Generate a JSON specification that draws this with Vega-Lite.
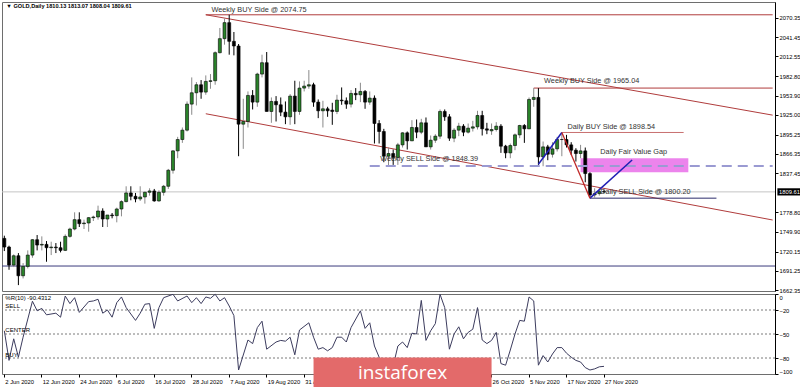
{
"$schema": "https://vega.github.io/schema/vega-lite/v6.json",
"background": "white",
"padding": {"left": 1, "top": 1, "right": 0, "bottom": 0},
"spacing": 3,
"bounds": "flush",
"config": {
  "view": {"stroke": "#6e6e6e", "strokeWidth": 1},
  "font": "Liberation Sans",
  "axis": {"labelFont": "Liberation Sans", "labelFontSize": 5.8, "labelColor": "#000", "tickColor": "#000", "domainColor": "#000", "grid": false, "tickSize": 3, "labelPadding": 1, "labelOverlap": false, "labelSeparation": 0}
},
"resolve": {"scale": {"x": "shared"}},
"datasets": {
  "candles": [
{"d":"2020-06-02","o":1740,"h":1744,"l":1721,"c":1727},
{"d":"2020-06-03","o":1727,"h":1729,"l":1693,"c":1700},
{"d":"2020-06-04","o":1700,"h":1716,"l":1697,"c":1714},
{"d":"2020-06-05","o":1714,"h":1718,"l":1670,"c":1684},
{"d":"2020-06-08","o":1684,"h":1703,"l":1680,"c":1698},
{"d":"2020-06-09","o":1698,"h":1722,"l":1695,"c":1715},
{"d":"2020-06-10","o":1715,"h":1739,"l":1711,"c":1738},
{"d":"2020-06-11","o":1738,"h":1745,"l":1722,"c":1730},
{"d":"2020-06-12","o":1730,"h":1743,"l":1722,"c":1731},
{"d":"2020-06-15","o":1731,"h":1736,"l":1705,"c":1726},
{"d":"2020-06-16","o":1726,"h":1735,"l":1715,"c":1727},
{"d":"2020-06-17","o":1727,"h":1733,"l":1718,"c":1726},
{"d":"2020-06-18","o":1726,"h":1735,"l":1719,"c":1722},
{"d":"2020-06-19","o":1722,"h":1746,"l":1721,"c":1743},
{"d":"2020-06-22","o":1743,"h":1756,"l":1741,"c":1754},
{"d":"2020-06-23","o":1754,"h":1779,"l":1752,"c":1768},
{"d":"2020-06-24","o":1768,"h":1779,"l":1757,"c":1762},
{"d":"2020-06-25","o":1762,"h":1768,"l":1754,"c":1763},
{"d":"2020-06-26","o":1763,"h":1772,"l":1750,"c":1771},
{"d":"2020-06-29","o":1771,"h":1774,"l":1766,"c":1772},
{"d":"2020-06-30","o":1772,"h":1789,"l":1768,"c":1781},
{"d":"2020-07-01","o":1781,"h":1785,"l":1757,"c":1769},
{"d":"2020-07-02","o":1769,"h":1775,"l":1757,"c":1775},
{"d":"2020-07-03","o":1775,"h":1778,"l":1770,"c":1774},
{"d":"2020-07-06","o":1774,"h":1786,"l":1764,"c":1784},
{"d":"2020-07-07","o":1784,"h":1797,"l":1773,"c":1795},
{"d":"2020-07-08","o":1795,"h":1818,"l":1794,"c":1808},
{"d":"2020-07-09","o":1808,"h":1818,"l":1797,"c":1803},
{"d":"2020-07-10","o":1803,"h":1808,"l":1794,"c":1799},
{"d":"2020-07-13","o":1799,"h":1818,"l":1796,"c":1802},
{"d":"2020-07-14","o":1802,"h":1810,"l":1792,"c":1809},
{"d":"2020-07-15","o":1809,"h":1815,"l":1804,"c":1811},
{"d":"2020-07-16","o":1811,"h":1814,"l":1795,"c":1796},
{"d":"2020-07-17","o":1796,"h":1812,"l":1795,"c":1809},
{"d":"2020-07-20","o":1809,"h":1820,"l":1804,"c":1818},
{"d":"2020-07-21","o":1818,"h":1844,"l":1814,"c":1842},
{"d":"2020-07-22","o":1842,"h":1872,"l":1837,"c":1871},
{"d":"2020-07-23","o":1871,"h":1892,"l":1860,"c":1888},
{"d":"2020-07-24","o":1888,"h":1906,"l":1883,"c":1902},
{"d":"2020-07-27","o":1902,"h":1945,"l":1900,"c":1941},
{"d":"2020-07-28","o":1941,"h":1981,"l":1925,"c":1958},
{"d":"2020-07-29","o":1958,"h":1974,"l":1939,"c":1970},
{"d":"2020-07-30","o":1970,"h":1977,"l":1949,"c":1959},
{"d":"2020-07-31","o":1959,"h":1984,"l":1955,"c":1975},
{"d":"2020-08-03","o":1975,"h":1986,"l":1964,"c":1976},
{"d":"2020-08-04","o":1976,"h":2020,"l":1970,"c":2018},
{"d":"2020-08-05","o":2018,"h":2055,"l":2017,"c":2039},
{"d":"2020-08-06","o":2039,"h":2069,"l":2030,"c":2063},
{"d":"2020-08-07","o":2063,"h":2074.75,"l":2015,"c":2035},
{"d":"2020-08-10","o":2035,"h":2049,"l":2014,"c":2028},
{"d":"2020-08-11","o":2028,"h":2031,"l":1863,"c":1911},
{"d":"2020-08-12","o":1911,"h":1949,"l":1874,"c":1915},
{"d":"2020-08-13","o":1915,"h":1960,"l":1906,"c":1954},
{"d":"2020-08-14","o":1954,"h":1962,"l":1933,"c":1944},
{"d":"2020-08-17","o":1944,"h":1988,"l":1937,"c":1986},
{"d":"2020-08-18","o":1986,"h":2015,"l":1981,"c":2003},
{"d":"2020-08-19","o":2003,"h":2019,"l":1930,"c":1930},
{"d":"2020-08-20","o":1930,"h":1951,"l":1913,"c":1945},
{"d":"2020-08-21","o":1945,"h":1953,"l":1915,"c":1940},
{"d":"2020-08-24","o":1940,"h":1951,"l":1923,"c":1929},
{"d":"2020-08-25","o":1929,"h":1945,"l":1911,"c":1922},
{"d":"2020-08-26","o":1922,"h":1956,"l":1910,"c":1953},
{"d":"2020-08-27","o":1953,"h":1976,"l":1911,"c":1930},
{"d":"2020-08-28","o":1930,"h":1975,"l":1925,"c":1965},
{"d":"2020-08-31","o":1965,"h":1976,"l":1960,"c":1968},
{"d":"2020-09-01","o":1968,"h":1992,"l":1964,"c":1970},
{"d":"2020-09-02","o":1970,"h":1973,"l":1937,"c":1944},
{"d":"2020-09-03","o":1944,"h":1948,"l":1920,"c":1931},
{"d":"2020-09-04","o":1931,"h":1946,"l":1906,"c":1934},
{"d":"2020-09-07","o":1934,"h":1937,"l":1922,"c":1931},
{"d":"2020-09-08","o":1932,"h":1943,"l":1910,"c":1930},
{"d":"2020-09-09","o":1930,"h":1955,"l":1926,"c":1947},
{"d":"2020-09-10","o":1947,"h":1966,"l":1940,"c":1946},
{"d":"2020-09-11","o":1946,"h":1951,"l":1934,"c":1941},
{"d":"2020-09-14","o":1941,"h":1962,"l":1936,"c":1957},
{"d":"2020-09-15","o":1957,"h":1965,"l":1947,"c":1955},
{"d":"2020-09-16","o":1955,"h":1973,"l":1944,"c":1960},
{"d":"2020-09-17","o":1960,"h":1962,"l":1934,"c":1944},
{"d":"2020-09-18","o":1944,"h":1960,"l":1940,"c":1950},
{"d":"2020-09-21","o":1950,"h":1954,"l":1882,"c":1912},
{"d":"2020-09-22","o":1912,"h":1917,"l":1882,"c":1900},
{"d":"2020-09-23","o":1900,"h":1904,"l":1854,"c":1863},
{"d":"2020-09-24","o":1863,"h":1876,"l":1848.39,"c":1867},
{"d":"2020-09-25","o":1867,"h":1873,"l":1850,"c":1861},
{"d":"2020-09-28","o":1861,"h":1883,"l":1850,"c":1880},
{"d":"2020-09-29","o":1880,"h":1899,"l":1876,"c":1898},
{"d":"2020-09-30","o":1898,"h":1900,"l":1873,"c":1886},
{"d":"2020-10-01","o":1886,"h":1917,"l":1886,"c":1906},
{"d":"2020-10-02","o":1906,"h":1918,"l":1890,"c":1899},
{"d":"2020-10-05","o":1899,"h":1919,"l":1896,"c":1913},
{"d":"2020-10-06","o":1913,"h":1921,"l":1877,"c":1877},
{"d":"2020-10-07","o":1877,"h":1894,"l":1873,"c":1887},
{"d":"2020-10-08","o":1887,"h":1896,"l":1883,"c":1893},
{"d":"2020-10-09","o":1893,"h":1933,"l":1889,"c":1930},
{"d":"2020-10-12","o":1930,"h":1933,"l":1916,"c":1922},
{"d":"2020-10-13","o":1922,"h":1926,"l":1886,"c":1890},
{"d":"2020-10-14","o":1890,"h":1905,"l":1884,"c":1902},
{"d":"2020-10-15","o":1902,"h":1913,"l":1893,"c":1908},
{"d":"2020-10-16","o":1908,"h":1911,"l":1893,"c":1899},
{"d":"2020-10-19","o":1899,"h":1912,"l":1897,"c":1905},
{"d":"2020-10-20","o":1905,"h":1916,"l":1900,"c":1907},
{"d":"2020-10-21","o":1907,"h":1931,"l":1903,"c":1924},
{"d":"2020-10-22","o":1924,"h":1931,"l":1894,"c":1904},
{"d":"2020-10-23","o":1904,"h":1913,"l":1896,"c":1902},
{"d":"2020-10-26","o":1901,"h":1912,"l":1895,"c":1903},
{"d":"2020-10-27","o":1903,"h":1914,"l":1900,"c":1908},
{"d":"2020-10-28","o":1908,"h":1911,"l":1868,"c":1878},
{"d":"2020-10-29","o":1878,"h":1880,"l":1860,"c":1868},
{"d":"2020-10-30","o":1868,"h":1882,"l":1860,"c":1879},
{"d":"2020-11-02","o":1879,"h":1897,"l":1872,"c":1895},
{"d":"2020-11-03","o":1895,"h":1910,"l":1890,"c":1909},
{"d":"2020-11-04","o":1909,"h":1911,"l":1883,"c":1904},
{"d":"2020-11-05","o":1904,"h":1951,"l":1904,"c":1948},
{"d":"2020-11-06","o":1948,"h":1965.04,"l":1937,"c":1951},
{"d":"2020-11-09","o":1951,"h":1965,"l":1850,"c":1862},
{"d":"2020-11-10","o":1862,"h":1885,"l":1848,"c":1877},
{"d":"2020-11-11","o":1877,"h":1880,"l":1857,"c":1866},
{"d":"2020-11-12","o":1866,"h":1884,"l":1861,"c":1874},
{"d":"2020-11-13","o":1874,"h":1892,"l":1870,"c":1888},
{"d":"2020-11-16","o":1888,"h":1898.54,"l":1863,"c":1888},
{"d":"2020-11-17","o":1888,"h":1895,"l":1876,"c":1880},
{"d":"2020-11-18","o":1880,"h":1884,"l":1865,"c":1872},
{"d":"2020-11-19","o":1872,"h":1875,"l":1855,"c":1867},
{"d":"2020-11-20","o":1867,"h":1880,"l":1860,"c":1871},
{"d":"2020-11-23","o":1871,"h":1876,"l":1824,"c":1837},
{"d":"2020-11-24","o":1837,"h":1839,"l":1800.2,"c":1805},
{"d":"2020-11-25","o":1805,"h":1815,"l":1801,"c":1807},
{"d":"2020-11-26","o":1807,"h":1816,"l":1804,"c":1810},
{"d":"2020-11-27","o":1810.13,"h":1813.07,"l":1808.04,"c":1809.61}
  ],
  "wr": [
{"d":"2020-06-02","v":-46},{"d":"2020-06-03","v":-83},{"d":"2020-06-04","v":-56},{"d":"2020-06-05","v":-79},{"d":"2020-06-08","v":-54},{"d":"2020-06-10","v":-9},{"d":"2020-06-11","v":-21},{"d":"2020-06-12","v":-18},{"d":"2020-06-15","v":-26},{"d":"2020-06-17","v":-24},{"d":"2020-06-18","v":-29},{"d":"2020-06-19","v":-2.5},{"d":"2020-06-22","v":-12},{"d":"2020-06-23","v":-4.6},{"d":"2020-06-24","v":-23},{"d":"2020-06-26","v":-9.5},{"d":"2020-06-29","v":-8.7},{"d":"2020-06-30","v":-6.6},{"d":"2020-07-01","v":-24},{"d":"2020-07-02","v":-20},{"d":"2020-07-03","v":-29},{"d":"2020-07-06","v":-10.8},{"d":"2020-07-07","v":-3.7},{"d":"2020-07-08","v":-17},{"d":"2020-07-10","v":-33},{"d":"2020-07-13","v":-24},{"d":"2020-07-14","v":-12.8},{"d":"2020-07-15","v":-12},{"d":"2020-07-16","v":-43},{"d":"2020-07-17","v":-17},{"d":"2020-07-20","v":-4.6},{"d":"2020-07-22","v":-0.4},{"d":"2020-07-23","v":-8.7},{"d":"2020-07-27","v":-2.5},{"d":"2020-07-28","v":-10.8},{"d":"2020-07-29","v":-4.6},{"d":"2020-07-30","v":-12},{"d":"2020-07-31","v":-3.7},{"d":"2020-08-03","v":-5.4},{"d":"2020-08-04","v":-0.4},{"d":"2020-08-05","v":-8.7},{"d":"2020-08-06","v":-4.6},{"d":"2020-08-07","v":-15},{"d":"2020-08-10","v":-27},{"d":"2020-08-11","v":-95},{"d":"2020-08-13","v":-57.5},{"d":"2020-08-14","v":-62},{"d":"2020-08-17","v":-42},{"d":"2020-08-18","v":-34},{"d":"2020-08-19","v":-69},{"d":"2020-08-21","v":-60},{"d":"2020-08-24","v":-58},{"d":"2020-08-25","v":-59},{"d":"2020-08-26","v":-54},{"d":"2020-08-27","v":-76},{"d":"2020-08-28","v":-45},{"d":"2020-09-01","v":-36},{"d":"2020-09-02","v":-54},{"d":"2020-09-03","v":-69},{"d":"2020-09-04","v":-67},{"d":"2020-09-07","v":-71},{"d":"2020-09-08","v":-67},{"d":"2020-09-09","v":-54},{"d":"2020-09-10","v":-54},{"d":"2020-09-11","v":-60},{"d":"2020-09-14","v":-42},{"d":"2020-09-16","v":-21},{"d":"2020-09-17","v":-43},{"d":"2020-09-18","v":-36},{"d":"2020-09-21","v":-65},{"d":"2020-09-22","v":-79},{"d":"2020-09-23","v":-92},{"d":"2020-09-24","v":-85},{"d":"2020-09-25","v":-90},{"d":"2020-09-28","v":-65},{"d":"2020-09-29","v":-60},{"d":"2020-09-30","v":-67},{"d":"2020-10-01","v":-49},{"d":"2020-10-02","v":-50},{"d":"2020-10-05","v":-8},{"d":"2020-10-06","v":-58},{"d":"2020-10-07","v":-46},{"d":"2020-10-08","v":-37},{"d":"2020-10-09","v":-0.4},{"d":"2020-10-12","v":-17},{"d":"2020-10-13","v":-69},{"d":"2020-10-14","v":-50},{"d":"2020-10-15","v":-41},{"d":"2020-10-16","v":-56},{"d":"2020-10-19","v":-48},{"d":"2020-10-20","v":-44},{"d":"2020-10-21","v":-17},{"d":"2020-10-22","v":-57.5},{"d":"2020-10-23","v":-62},{"d":"2020-10-26","v":-58},{"d":"2020-10-27","v":-48},{"d":"2020-10-28","v":-87},{"d":"2020-10-29","v":-89},{"d":"2020-10-30","v":-70},{"d":"2020-11-02","v":-50},{"d":"2020-11-03","v":-33},{"d":"2020-11-04","v":-34},{"d":"2020-11-05","v":-3.7},{"d":"2020-11-06","v":-8.7},{"d":"2020-11-09","v":-89},{"d":"2020-11-10","v":-77},{"d":"2020-11-11","v":-85},{"d":"2020-11-12","v":-75},{"d":"2020-11-13","v":-67},{"d":"2020-11-16","v":-67},{"d":"2020-11-17","v":-74},{"d":"2020-11-18","v":-79},{"d":"2020-11-19","v":-83},{"d":"2020-11-20","v":-85},{"d":"2020-11-23","v":-92},{"d":"2020-11-24","v":-95},{"d":"2020-11-25","v":-93.6},{"d":"2020-11-26","v":-91},{"d":"2020-11-27","v":-90.43}
  ]
},
"vconcat": [
{
  "width": 773,
  "height": 289,
  "layer": [
    {
      "data": {"values": [{"p": 1809.61}]},
      "mark": {"type": "rule", "stroke": "#c4c4c4", "strokeWidth": 1},
      "encoding": {
        "y": {"field": "p", "type": "quantitative", "scale": {"domain": [1661.2, 2093.9], "nice": false, "zero": false},
          "axis": {"orient": "right", "title": null, "values": [2070.35,2041.45,2012.55,1982.80,1953.90,1925.00,1895.25,1866.35,1837.45,1778.80,1749.90,1720.15,1691.25,1662.35], "tickCount": 100, "format": ".2f", "labelOverlap": false}}
      }
    },
    {
      "data": {"values": [{"p": 1698.6}]},
      "mark": {"type": "rule", "stroke": "#3a3a7c", "strokeWidth": 1},
      "encoding": {"y": {"field": "p", "type": "quantitative"}}
    },
    {
      "data": {"values": [{"d": "2020-11-20", "d2": "2020-12-23", "p": 1838.9, "p2": 1859.9}]},
      "mark": {"type": "rect", "color": "#ec84ec", "opacity": 1},
      "encoding": {
        "x": {"field": "d", "type": "ordinal", "bandPosition": 0.5, "axis": null,
          "scale": {"type": "band", "paddingInner": 0, "paddingOuter": 0, "domain": ["2020-06-02","2020-06-03","2020-06-04","2020-06-05","2020-06-08","2020-06-09","2020-06-10","2020-06-11","2020-06-12","2020-06-15","2020-06-16","2020-06-17","2020-06-18","2020-06-19","2020-06-22","2020-06-23","2020-06-24","2020-06-25","2020-06-26","2020-06-29","2020-06-30","2020-07-01","2020-07-02","2020-07-03","2020-07-06","2020-07-07","2020-07-08","2020-07-09","2020-07-10","2020-07-13","2020-07-14","2020-07-15","2020-07-16","2020-07-17","2020-07-20","2020-07-21","2020-07-22","2020-07-23","2020-07-24","2020-07-27","2020-07-28","2020-07-29","2020-07-30","2020-07-31","2020-08-03","2020-08-04","2020-08-05","2020-08-06","2020-08-07","2020-08-10","2020-08-11","2020-08-12","2020-08-13","2020-08-14","2020-08-17","2020-08-18","2020-08-19","2020-08-20","2020-08-21","2020-08-24","2020-08-25","2020-08-26","2020-08-27","2020-08-28","2020-08-31","2020-09-01","2020-09-02","2020-09-03","2020-09-04","2020-09-07","2020-09-08","2020-09-09","2020-09-10","2020-09-11","2020-09-14","2020-09-15","2020-09-16","2020-09-17","2020-09-18","2020-09-21","2020-09-22","2020-09-23","2020-09-24","2020-09-25","2020-09-28","2020-09-29","2020-09-30","2020-10-01","2020-10-02","2020-10-05","2020-10-06","2020-10-07","2020-10-08","2020-10-09","2020-10-12","2020-10-13","2020-10-14","2020-10-15","2020-10-16","2020-10-19","2020-10-20","2020-10-21","2020-10-22","2020-10-23","2020-10-26","2020-10-27","2020-10-28","2020-10-29","2020-10-30","2020-11-02","2020-11-03","2020-11-04","2020-11-05","2020-11-06","2020-11-09","2020-11-10","2020-11-11","2020-11-12","2020-11-13","2020-11-16","2020-11-17","2020-11-18","2020-11-19","2020-11-20","2020-11-23","2020-11-24","2020-11-25","2020-11-26","2020-11-27","2020-11-30","2020-12-01","2020-12-02","2020-12-03","2020-12-04","2020-12-07","2020-12-08","2020-12-09","2020-12-10","2020-12-11","2020-12-14","2020-12-15","2020-12-16","2020-12-17","2020-12-18","2020-12-21","2020-12-22","2020-12-23","2020-12-24","2020-12-25","2020-12-28","2020-12-29","2020-12-30","2020-12-31","2021-01-01","2021-01-04","2021-01-05","2021-01-06","2021-01-07","2021-01-08","2021-01-11","2021-01-12","2021-01-13","2021-01-14","2021-01-15","2021-01-18"]}},
        "x2": {"field": "d2", "bandPosition": 0.5},
        "y": {"field": "p", "type": "quantitative"},
        "y2": {"field": "p2"}
      }
    },
    {
      "data": {"values": [
        {"d": "2020-07-31", "d2": "2021-01-18", "p": 2074.8, "p2": 1924.5},
        {"d": "2020-07-31", "d2": "2021-01-18", "p": 1926.6, "p2": 1767.5}
      ]},
      "mark": {"type": "rule", "stroke": "#b03c3c", "strokeWidth": 1},
      "encoding": {
        "x": {"field": "d", "type": "ordinal", "axis": null},
        "x2": {"field": "d2"},
        "y": {"field": "p", "type": "quantitative"},
        "y2": {"field": "p2"}
      }
    },
    {
      "data": {"values": [
        {"d": "2020-07-31", "d2": "2021-01-18", "p": 2074.75},
        {"d": "2020-11-06", "d2": "2021-01-18", "p": 1965.04}
      ]},
      "mark": {"type": "rule", "stroke": "#b03c3c", "strokeWidth": 1},
      "encoding": {
        "x": {"field": "d", "type": "ordinal", "axis": null},
        "x2": {"field": "d2"},
        "y": {"field": "p", "type": "quantitative"}
      }
    },
    {
      "data": {"values": [{"d": "2020-11-16", "d2": "2020-12-22", "p": 1898.54}]},
      "mark": {"type": "rule", "stroke": "#c87070", "strokeWidth": 1},
      "encoding": {
        "x": {"field": "d", "type": "ordinal", "axis": null},
        "x2": {"field": "d2"},
        "y": {"field": "p", "type": "quantitative"}
      }
    },
    {
      "data": {"values": [{"d": "2020-11-24", "d2": "2020-12-31", "p": 1800.2}]},
      "mark": {"type": "rule", "stroke": "#2c2c6c", "strokeWidth": 1},
      "encoding": {
        "x": {"field": "d", "type": "ordinal", "axis": null},
        "x2": {"field": "d2"},
        "y": {"field": "p", "type": "quantitative"}
      }
    },
    {
      "data": {"name": "candles"},
      "mark": {"type": "rule", "strokeWidth": 1},
      "encoding": {
        "x": {"field": "d", "type": "ordinal", "axis": null},
        "y": {"field": "l", "type": "quantitative"},
        "y2": {"field": "h"},
        "color": {"condition": {"test": "datum.c >= datum.o", "value": "#8a8a8a"}, "value": "#000000"}
      }
    },
    {
      "data": {"name": "candles"},
      "mark": {"type": "bar", "width": {"band": 0.64}, "stroke": "#000", "strokeWidth": 0.6},
      "encoding": {
        "x": {"field": "d", "type": "ordinal", "axis": null},
        "y": {"field": "o", "type": "quantitative"},
        "y2": {"field": "c"},
        "color": {"condition": {"test": "datum.c >= datum.o", "value": "#2a842a"}, "value": "#000000"}
      }
    },
    {
      "data": {"values": [{"d": "2020-09-18", "d2": "2021-01-18", "p": 1848.39}]},
      "mark": {"type": "rule", "stroke": "#9a9ad2", "strokeWidth": 2, "strokeDash": [10, 6]},
      "encoding": {
        "x": {"field": "d", "type": "ordinal", "axis": null},
        "x2": {"field": "d2"},
        "y": {"field": "p", "type": "quantitative"}
      }
    },
    {
      "data": {"values": [
        {"d": "2020-11-09", "d2": "2020-11-16", "p": 1850.9, "p2": 1898.54},
        {"d": "2020-11-24", "d2": "2020-12-07", "p": 1800.2, "p2": 1857.3}
      ]},
      "mark": {"type": "rule", "stroke": "#1f1fb4", "strokeWidth": 1.5},
      "encoding": {
        "x": {"field": "d", "type": "ordinal", "axis": null},
        "x2": {"field": "d2"},
        "y": {"field": "p", "type": "quantitative"},
        "y2": {"field": "p2"}
      }
    },
    {
      "data": {"values": [{"d": "2020-11-16", "d2": "2020-11-24", "p": 1898.54, "p2": 1800.2}]},
      "mark": {"type": "rule", "stroke": "#c02828", "strokeWidth": 1.3},
      "encoding": {
        "x": {"field": "d", "type": "ordinal", "axis": null},
        "x2": {"field": "d2"},
        "y": {"field": "p", "type": "quantitative"},
        "y2": {"field": "p2"}
      }
    },
    {
      "data": {"values": [
        {"d": "2020-08-03", "p": 2082.5, "t": "Weekly BUY Side @ 2074.75"},
        {"d": "2020-11-10", "p": 1975.6, "t": "Weekly BUY Side @ 1965.04"},
        {"d": "2020-11-17", "p": 1906.7, "t": "Daily BUY Side  @ 1898.54"},
        {"d": "2020-11-26", "p": 1868.8, "t": "Daily Fair Value Gap"},
        {"d": "2020-11-26", "p": 1809.4, "t": "Daily SELL Side @ 1800.20"},
        {"d": "2020-09-22", "p": 1858.1, "t": "Weekly SELL Side @ 1848.39"}
      ]},
      "mark": {"type": "text", "align": "left", "baseline": "middle", "fontSize": 7.3, "color": "#333333", "dx": 1},
      "encoding": {
        "x": {"field": "d", "type": "ordinal", "axis": null},
        "y": {"field": "p", "type": "quantitative"},
        "text": {"field": "t"}
      }
    },
    {
      "data": {"values": [{"d": "2020-06-02", "p": 2087.9, "t": "▼ GOLD,Daily  1810.13 1813.07 1808.04 1809.61"}]},
      "mark": {"type": "text", "align": "left", "baseline": "middle", "fontSize": 5.6, "fontWeight": "bold", "color": "#000", "dx": 2},
      "encoding": {
        "x": {"field": "d", "type": "ordinal", "axis": null},
        "y": {"field": "p", "type": "quantitative"},
        "text": {"field": "t"}
      }
    },
    {
      "data": {"values": [{"d": "2021-01-18", "p": 1809.61}]},
      "mark": {"type": "point", "shape": "M0.2,-0.3L2.2,-0.3L2.2,0.3L0.2,0.3Z", "size": 576, "filled": true, "color": "#000", "opacity": 1},
      "encoding": {
        "x": {"field": "d", "type": "ordinal", "bandPosition": 1, "axis": null},
        "y": {"field": "p", "type": "quantitative"}
      }
    },
    {
      "data": {"values": [{"d": "2021-01-18", "p": 1809.61, "t": "1809.61"}]},
      "mark": {"type": "text", "align": "left", "baseline": "middle", "fontSize": 5.8, "color": "#fff", "dx": 4},
      "encoding": {
        "x": {"field": "d", "type": "ordinal", "bandPosition": 1, "axis": null},
        "y": {"field": "p", "type": "quantitative"},
        "text": {"field": "t"}
      }
    }
  ]
},
{
  "width": 773,
  "height": 80,
  "layer": [
    {
      "data": {"values": [{"v": -20}, {"v": -50}, {"v": -80}]},
      "mark": {"type": "rule", "stroke": "#7a7a7a", "strokeWidth": 1, "strokeDash": [2, 2]},
      "encoding": {
        "y": {"field": "v", "type": "quantitative", "scale": {"domain": [-100, 0], "nice": false, "zero": false},
          "axis": {"orient": "right", "title": null, "values": [0, -20, -50, -80, -100], "tickCount": 100, "labelFlush": true, "format": "d", "labelOverlap": false}}
      }
    },
    {
      "data": {"name": "wr"},
      "mark": {"type": "line", "stroke": "#3c3c5e", "strokeWidth": 1},
      "encoding": {
        "x": {"field": "d", "type": "ordinal",
          "axis": {"title": null, "values": ["2020-06-02","2020-06-12","2020-06-24","2020-07-06","2020-07-16","2020-07-28","2020-08-07","2020-08-19","2020-08-31","2020-10-26","2020-11-05","2020-11-17","2020-11-27"],
            "labelExpr": "utcFormat(toDate(datum.value), '%-d %b %Y')", "labelAlign": "left", "labelAngle": 0, "labelOffset": 1, "labelOverlap": false, "domain": false}},
        "y": {"field": "v", "type": "quantitative"}
      }
    },
    {
      "data": {"values": [
        {"d": "2020-06-02", "v": -5, "t": "%R(10) -90.4312"},
        {"d": "2020-06-02", "v": -15, "t": "SELL"},
        {"d": "2020-06-02", "v": -45.4, "t": "CENTER"},
        {"d": "2020-06-02", "v": -76.6, "t": "BUY"}
      ]},
      "mark": {"type": "text", "align": "left", "baseline": "middle", "fontSize": 6, "color": "#000", "dx": 1},
      "encoding": {
        "x": {"field": "d", "type": "ordinal"},
        "y": {"field": "v", "type": "quantitative"},
        "text": {"field": "t"}
      }
    },
    {
      "data": {"values": [{"d": "2020-09-02", "d2": "2020-10-26", "v": -79.3, "v2": -117}]},
      "mark": {"type": "rect", "color": "#e36a6a", "opacity": 1},
      "encoding": {
        "x": {"field": "d", "type": "ordinal", "bandPosition": 0.5},
        "x2": {"field": "d2", "bandPosition": 0.5},
        "y": {"field": "v", "type": "quantitative"},
        "y2": {"field": "v2"}
      }
    },
    {
      "data": {"values": [{"d": "2020-09-29", "v": -105.7, "t": "instaforex"}]},
      "mark": {"type": "text", "align": "center", "baseline": "alphabetic", "font": "Open Sans", "fontSize": 19, "color": "#ffffff"},
      "encoding": {
        "x": {"field": "d", "type": "ordinal"},
        "y": {"field": "v", "type": "quantitative"},
        "text": {"field": "t"}
      }
    }
  ]
}
]
}
